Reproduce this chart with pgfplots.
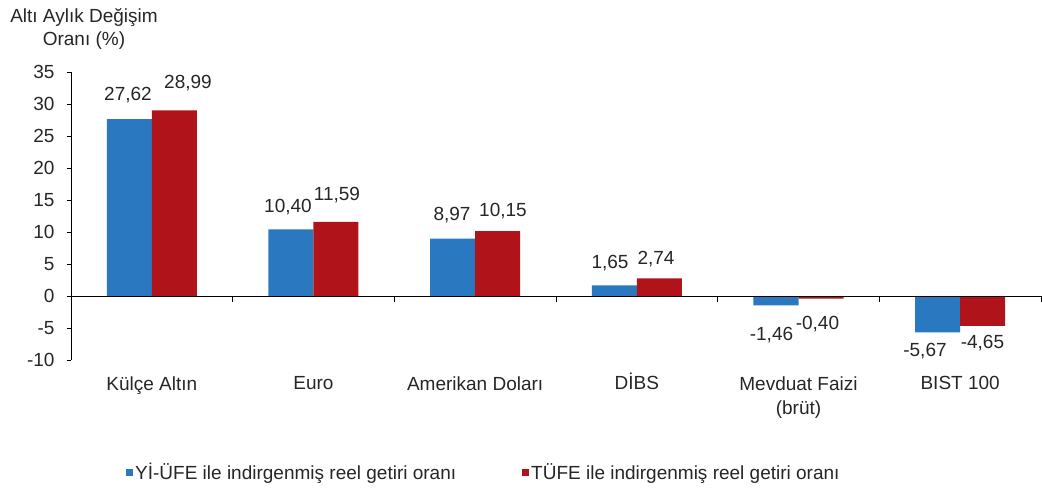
\documentclass[border=0pt]{standalone}
\usepackage{pgfplots}
\pgfplotsset{compat=1.18}
\usepackage{fontspec}
\setmainfont{Liberation Sans}
\definecolor{cblue}{HTML}{2A79C0}
\definecolor{cred}{HTML}{B0141A}
\newcommand{\fs}{\fontsize{19}{24}\selectfont}
\begin{document}
\begin{tikzpicture}
\path[use as bounding box] (-71pt,-136pt) rectangle (971pt,360pt);
\begin{axis}[
  scale only axis,
  width=970pt, height=288pt,
  xmin=-0.5, xmax=5.5, ymin=-10, ymax=35,
  axis y line*=left,
  axis x line*=bottom,
  x axis line style={draw=none},
  y axis line style={black, line width=0.8pt},
  ytick={-10,-5,...,35},
  xtick={0,1,2,3,4,5},
  xticklabels={Külçe Altın, Euro, Amerikan Doları, {D\smash{İ}BS}, {Mevduat Faizi\\(brüt)}, BIST 100},
  major x tick style={draw=none},
  major y tick style={black, line width=0.8pt},
  tick align=outside,
  major tick length=4pt,
  /pgf/number format/assume math mode=true,
  ticklabel style={font=\fs, text=black!85},
  xticklabel style={align=center, yshift=-9pt},
  yticklabel style={xshift=-9pt},
  ybar=0pt,
  bar width=45pt,
  legend columns=2,
  legend style={at={(0.0567,-0.389)}, anchor=west, draw=none, fill=none,
    font=\fs, text=black!85, inner sep=0pt,
    /tikz/every even column/.append style={column sep=64pt}},
  legend image code/.code={\fill[#1] (0pt,-3.5pt) rectangle (7pt,3.5pt);},
  clip=false,
]
\addplot[fill=cblue, draw=none] coordinates {(0,27.62) (1,10.40) (2,8.97) (3,1.65) (4,-1.46) (5,-5.67)};
\addlegendentry{Yİ-ÜFE ile indirgenmiş reel getiri oranı}
\addplot[fill=cred, draw=none] coordinates {(0,28.99) (1,11.59) (2,10.15) (3,2.74) (4,-0.40) (5,-4.65)};
\addlegendentry{TÜFE ile indirgenmiş reel getiri oranı}
\draw[black, line width=0.8pt] (axis cs:-0.5,0) -- (axis cs:5.5,0);
\draw[black, line width=0.8pt]
  (axis cs:0.5,0) -- ([yshift=-6pt]axis cs:0.5,0)
  (axis cs:1.5,0) -- ([yshift=-6pt]axis cs:1.5,0)
  (axis cs:2.5,0) -- ([yshift=-6pt]axis cs:2.5,0)
  (axis cs:3.5,0) -- ([yshift=-6pt]axis cs:3.5,0)
  (axis cs:4.5,0) -- ([yshift=-6pt]axis cs:4.5,0)
  (axis cs:5.5,0) -- ([yshift=-6pt]axis cs:5.5,0);
\begin{scope}[every node/.style={font=\fs, text=black!85, anchor=base, inner sep=0pt}]
\node at (axis cs:-0.1474,30.47) {27,62};
\node at (axis cs:0.2237,32.5) {28,99};
\node at (axis cs:0.8422,13.125) {10,40};
\node at (axis cs:1.1453,15.0) {11,59};
\node at (axis cs:1.8567,11.72) {8,97};
\node at (axis cs:2.1721,12.5) {10,15};
\node at (axis cs:2.834,4.22) {1,65};
\node at (axis cs:3.1185,5.0) {2,74};
\node at (axis cs:3.833,-6.875) {-1,46};
\node at (axis cs:4.1174,-5.31) {-0,40};
\node at (axis cs:4.7824,-9.53) {-5,67};
\node at (axis cs:5.138,-8.28) {-4,65};
\node at ([xshift=13pt,yshift=50pt]rel axis cs:0,1) {Altı Aylık Değişim};
\node at ([xshift=13pt,yshift=27pt]rel axis cs:0,1) {Oranı (\%)};
\end{scope}
\end{axis}
\end{tikzpicture}
\end{document}
